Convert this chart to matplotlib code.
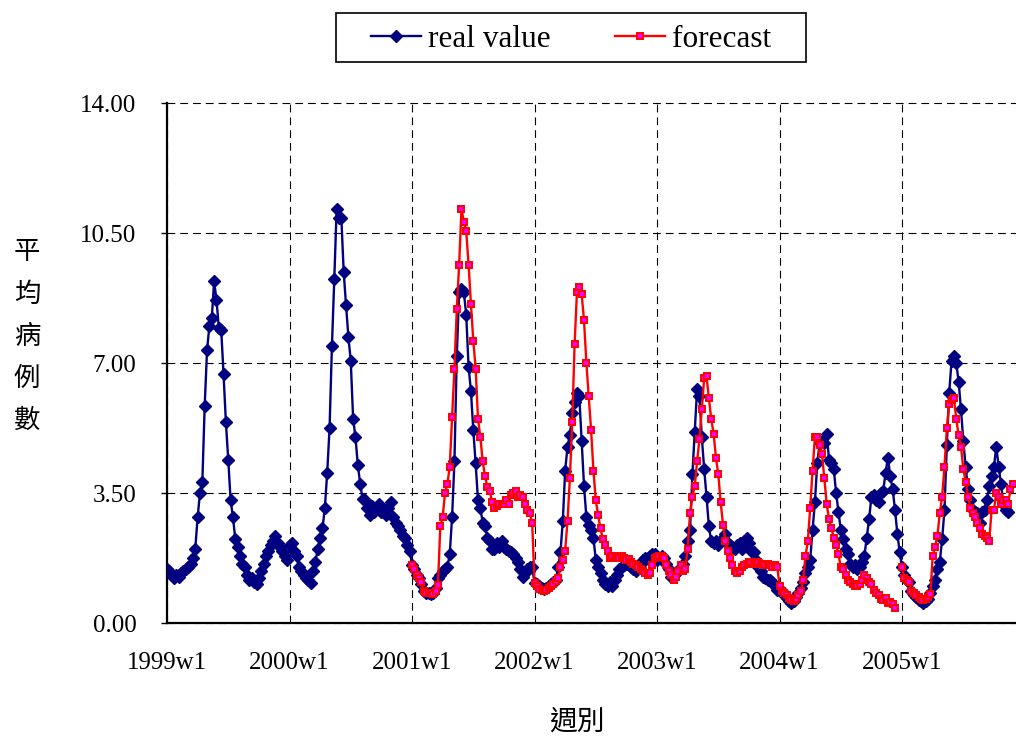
import numpy as np
import matplotlib
matplotlib.use("Agg")
import matplotlib.pyplot as plt
from matplotlib.patches import Rectangle
from matplotlib.ticker import FormatStrFormatter

# weekly average case counts, one list per year
real_1999 = [1.45, 1.4, 1.3, 1.2, 1.3, 1.25, 1.35, 1.4, 1.45, 1.5, 1.6, 1.75, 2.0, 2.85, 3.5, 3.8,
             5.85, 7.35, 8.0, 8.2, 9.2, 8.7, 7.95, 7.9, 6.7, 5.4, 4.4, 3.3, 2.85, 2.25, 2.05, 1.8,
             1.6, 1.5, 1.3, 1.15, 1.2, 1.1, 1.05, 1.2, 1.4, 1.6, 1.8, 1.95, 2.1, 2.2, 2.35, 2.15,
             2.05, 1.95, 1.8, 1.7]
real_2000 = [2.1, 2.15, 1.95, 1.8, 1.5, 1.4, 1.3, 1.2, 1.15, 1.08, 1.4, 1.65, 2.0, 2.3, 2.55, 3.1,
             4.05, 5.25, 7.45, 9.25, 11.15, 10.9, 10.9, 9.45, 8.55, 7.7, 7.05, 5.5, 5.0, 4.25, 3.75,
             3.35, 3.3, 3.1, 2.9, 3.15, 3.0, 3.1, 3.2, 3.0, 3.05, 2.9, 3.1, 3.25, 2.85, 2.7, 2.6,
             2.5, 2.35, 2.3, 2.1, 1.95]
real_2001 = [1.55, 1.45, 1.3, 1.2, 1.05, 0.85, 0.8, 0.8, 0.78, 0.8, 0.95, 1.2, 1.3, 1.4, 1.45, 1.5,
             1.85, 2.85, 4.35, 7.2, 8.9, 9.0, 8.9, 8.3, 6.9, 6.25, 5.2, 4.3, 3.3, 3.1, 2.7, 2.6,
             2.3, 2.2, 2.0, 2.0, 2.15, 2.05, 2.2, 2.05, 2.0, 1.95, 1.9, 1.85, 1.75, 1.65, 1.45,
             1.25, 1.35, 1.45, 1.5, 1.5]
real_2002 = [1.08, 1.05, 1.0, 0.95, 0.92, 0.95, 1.0, 1.05, 1.1, 1.15, 1.5, 1.9, 2.75, 4.1, 4.75,
             5.05, 5.65, 5.95, 6.2, 6.1, 4.9, 3.7, 2.85, 2.65, 2.5, 2.3, 1.7, 1.5, 1.35, 1.15, 1.05,
             1.0, 1.1, 1.0, 1.15, 1.3, 1.45, 1.5, 1.55, 1.6, 1.55, 1.5, 1.45, 1.4, 1.5, 1.6, 1.7,
             1.75, 1.75, 1.8, 1.85, 1.85]
real_2003 = [1.7, 1.75, 1.8, 1.75, 1.6, 1.45, 1.25, 1.3, 1.35, 1.4, 1.5, 1.6, 1.8, 2.2, 2.5, 4.0,
             5.15, 6.3, 6.1, 5.0, 4.15, 3.4, 2.6, 2.2, 2.15, 2.2, 2.1, 2.2, 2.3, 2.4, 2.15, 2.1,
             2.05, 2.0, 2.1, 2.15, 2.0, 2.2, 2.3, 2.15, 1.95, 1.9, 1.7, 1.5, 1.4, 1.25, 1.2, 1.15,
             1.15, 1.1, 1.0, 0.9]
real_2004 = [0.9, 0.85, 0.75, 0.68, 0.6, 0.55, 0.6, 0.7, 0.8, 0.95, 1.1, 1.35, 1.5, 1.7, 2.5, 3.25,
             4.3, 4.85, 4.9, 4.85, 5.1, 4.4, 4.3, 4.15, 3.5, 3.0, 2.5, 2.25, 2.0, 1.85, 1.6, 1.5,
             1.55, 1.45, 1.5, 1.65, 1.8, 2.3, 2.8, 3.4, 3.45, 3.3, 3.25, 3.5, 3.55, 4.05, 4.45,
             3.95, 3.6, 3.05, 2.4, 1.9]
real_2005 = [1.5, 1.3, 1.15, 1.1, 0.85, 0.75, 0.7, 0.62, 0.6, 0.55, 0.6, 0.65, 0.8, 1.0, 1.15, 1.45,
             1.65, 2.25, 3.05, 4.8, 6.2, 7.05, 7.2, 7.0, 6.5, 5.75, 4.9, 4.2, 3.6, 3.3, 3.05, 3.0,
             2.95, 2.7, 3.0, 3.05, 3.3, 3.7, 3.95, 4.2, 4.75, 4.2, 3.75, 3.2, 3.05, 3.0]

# model forecast, starting in 2001
fcst_2001 = [1.55, 1.45, 1.3, 1.2, 1.1, 0.85, 0.82, 0.8, 0.8, 0.78, 0.85, 1.02, 2.6, 2.85, 3.5, 3.75,
             4.2, 5.55, 6.85, 8.45, 9.65, 11.15, 10.8, 10.55, 9.65, 8.6, 7.6, 6.85, 5.5, 5.0, 4.35,
             3.95, 3.65, 3.55, 3.25, 3.1, 3.15, 3.2, 3.2, 3.2, 3.3, 3.2, 3.45, 3.5, 3.55, 3.4, 3.45,
             3.4, 3.2, 3.05, 2.95, 2.7]
fcst_2002 = [1.08, 1.0, 0.92, 0.88, 0.85, 0.9, 0.95, 1.0, 1.05, 1.12, 1.2, 1.5, 1.7, 1.95, 2.75, 3.9,
             5.4, 7.5, 8.9, 9.05, 8.85, 8.15, 7.0, 6.1, 5.2, 4.1, 3.3, 2.9, 2.55, 2.25, 2.1, 1.95,
             1.75, 1.8, 1.8, 1.75, 1.75, 1.8, 1.75, 1.7, 1.72, 1.65, 1.6, 1.55, 1.5, 1.45, 1.4,
             1.35, 1.3, 1.35, 1.55, 1.75]
fcst_2003 = [1.78, 1.8, 1.8, 1.75, 1.55, 1.4, 1.3, 1.15, 1.25, 1.4, 1.55, 1.4, 1.45, 2.0, 2.95, 3.4,
             3.7, 4.35, 4.95, 5.75, 6.6, 6.65, 6.05, 5.5, 5.1, 4.45, 4.0, 3.25, 2.65, 2.2, 1.95,
             1.75, 1.55, 1.4, 1.35, 1.4, 1.5, 1.55, 1.6, 1.65, 1.65, 1.6, 1.6, 1.65, 1.6, 1.55,
             1.55, 1.6, 1.55, 1.5, 1.55, 1.52]
fcst_2004 = [1.0, 0.85, 0.8, 0.75, 0.68, 0.62, 0.58, 0.65, 0.75, 0.85, 1.15, 1.8, 2.2, 3.1, 4.1, 5.0,
             5.0, 4.8, 4.55, 3.9, 3.2, 2.8, 2.55, 2.3, 2.1, 1.85, 1.5, 1.45, 1.3, 1.15, 1.1, 1.05,
             1.0, 1.0, 1.05, 1.15, 1.3, 1.2, 1.1, 1.05, 0.9, 0.8, 0.75, 0.65, 0.62, 0.67, 0.55,
             0.57, 0.5, 0.4, np.nan, np.nan]
fcst_2005 = [1.5, 1.2, 1.15, 1.1, 0.85, 0.8, 0.75, 0.7, 0.65, 0.62, 0.65, 0.7, 0.78, 1.8, 2.05, 2.35,
             2.95, 3.4, 4.2, 5.25, 5.9, 6.0, 6.05, 5.5, 5.05, 4.75, 4.15, 3.8, 3.4, 3.1, 2.95, 2.85,
             2.7, 2.55, 2.4, 2.35, 2.3, 2.2, 3.05, 3.05, 3.5, 3.4, 3.2, 3.3, 3.3, 3.2, 3.6, 3.75]

years = [1999, 2000, 2001, 2002, 2003, 2004, 2005]
week_labels = [f"{y}w1" for y in years]
y_ticks = [0, 3.5, 7, 10.5, 14]

plt.rcParams['font.family'] = ['Liberation Serif', 'DejaVu Sans']
cjk = ['Noto Sans CJK TC', 'DejaVu Sans']

real = np.array(real_1999 + real_2000 + real_2001 + real_2002 + real_2003 + real_2004 + real_2005,
                dtype=float)
lead = np.full(len(real_1999) + len(real_2000), np.nan)
forecast = np.concatenate([lead, np.array(fcst_2001 + fcst_2002 + fcst_2003 + fcst_2004 + fcst_2005,
                                          dtype=float)])

W, H = 1016, 742
week_px = 2.356
n_weeks = 365

fig = plt.figure(figsize=(W / 100, H / 100), dpi=100)
ax = fig.add_axes([167 / W, (H - 623) / H, n_weeks * week_px / W, 520 / H])

ax.plot(np.arange(len(real)), real, color='#000080', lw=1.7, marker='D', ms=6.5,
        mec='#000080', label='real value', zorder=3)
ax.plot(np.arange(len(forecast)), forecast, color='#FF0000', lw=1.7, marker='s', ms=4.5,
        mfc='#FF00FF', mec='#FF0000', mew=1.4, label='forecast', zorder=4)

ax.set_xlim(0, n_weeks)
ax.set_ylim(0, 14)
ax.set_yticks(y_ticks)
ax.yaxis.set_major_formatter(FormatStrFormatter('%.2f'))
ax.set_xticks([52 * k for k in range(len(years))])
ax.set_xticklabels(week_labels)

ax.grid(True, color='black', lw=0.8, ls=(0, (7, 4.5)))
for gl in ax.get_ygridlines():
    gl.set_clip_on(False)
ax.set_axisbelow(True)

for side in ['top', 'right']:
    ax.spines[side].set_visible(False)
for side in ['left', 'bottom']:
    ax.spines[side].set_linewidth(1.6)

ax.tick_params(axis='y', direction='out', length=4, width=1, pad=18, labelsize=18)
ax.tick_params(axis='x', length=0, pad=21, labelsize=18)

# vertical axis title, one character per line
for k, ch in enumerate("平均病例數"):
    fig.text(27 / W, 1 - (252 + 42 * k) / H, ch, family=cjk, fontsize=19,
             ha='center', va='center')
fig.text(577 / W, 1 - 722 / H, "週別", family=cjk, fontsize=20, ha='center', va='center')

fig.legend(loc='center', bbox_to_anchor=(571 / W, 1 - 39.5 / H), ncol=2, frameon=False,
           fontsize=22.5, handlelength=1.6, handletextpad=0.22, columnspacing=2.05,
           numpoints=1)
fig.patches.append(Rectangle((336 / W, 1 - 62 / H), 470 / W, 49 / H, transform=fig.transFigure,
                             fill=False, lw=1.2, ec='black'))

fig.savefig("out.png", dpi=100)
